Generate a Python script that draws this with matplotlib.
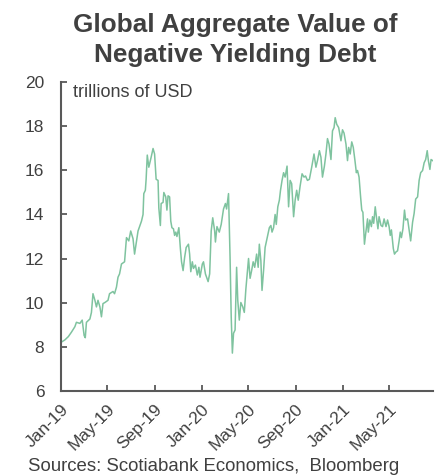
import matplotlib
matplotlib.use("Agg")
from matplotlib import pyplot as plt
import matplotlib.dates as mdates
import pandas as pd

# values (trillions of USD)
dates = [
    "2019-01-02", "2019-01-11", "2019-01-20", "2019-01-28", "2019-02-06", "2019-02-10",
    "2019-02-19", "2019-02-25", "2019-03-02", "2019-03-05", "2019-03-08", "2019-03-17",
    "2019-03-21", "2019-03-25", "2019-03-30", "2019-04-03", "2019-04-07", "2019-04-12",
    "2019-04-16", "2019-04-20", "2019-04-25", "2019-05-03", "2019-05-07", "2019-05-16",
    "2019-05-20", "2019-05-25", "2019-05-29", "2019-06-02", "2019-06-07", "2019-06-15",
    "2019-06-20", "2019-06-26", "2019-07-01", "2019-07-07", "2019-07-11", "2019-07-16",
    "2019-07-20", "2019-07-29", "2019-08-02", "2019-08-04", "2019-08-08", "2019-08-10",
    "2019-08-13", "2019-08-17", "2019-08-23", "2019-08-28", "2019-09-01", "2019-09-05",
    "2019-09-10", "2019-09-12", "2019-09-16", "2019-09-18", "2019-09-23", "2019-09-25",
    "2019-09-30", "2019-10-03", "2019-10-06", "2019-10-10", "2019-10-13", "2019-10-16",
    "2019-10-20", "2019-10-23", "2019-10-26", "2019-10-29", "2019-11-03", "2019-11-07",
    "2019-11-10", "2019-11-14", "2019-11-18", "2019-11-22", "2019-11-28", "2019-12-01",
    "2019-12-04", "2019-12-08", "2019-12-11", "2019-12-16", "2019-12-21", "2019-12-25",
    "2019-12-28",
    "2020-01-03", "2020-01-06", "2020-01-11", "2020-01-15", "2020-01-18", "2020-01-22",
    "2020-01-26", "2020-01-30", "2020-02-04", "2020-02-06", "2020-02-10", "2020-02-16",
    "2020-02-21", "2020-02-27", "2020-03-03", "2020-03-06", "2020-03-11", "2020-03-15",
    "2020-03-18", "2020-03-21", "2020-03-24", "2020-03-28", "2020-04-01", "2020-04-04",
    "2020-04-08", "2020-04-12", "2020-04-17", "2020-04-21", "2020-04-25", "2020-05-02",
    "2020-05-06", "2020-05-10", "2020-05-14", "2020-05-18", "2020-05-23", "2020-05-27",
    "2020-05-30", "2020-06-03", "2020-06-06", "2020-06-10", "2020-06-14", "2020-06-17",
    "2020-06-21", "2020-06-25", "2020-06-29", "2020-07-02", "2020-07-06", "2020-07-10",
    "2020-07-13", "2020-07-17", "2020-07-21", "2020-07-24", "2020-07-28", "2020-08-01",
    "2020-08-05", "2020-08-10", "2020-08-14", "2020-08-18", "2020-08-22", "2020-08-27",
    "2020-08-31", "2020-09-04", "2020-09-08", "2020-09-13", "2020-09-18", "2020-09-23",
    "2020-09-27", "2020-10-02", "2020-10-07", "2020-10-13", "2020-10-19", "2020-10-24",
    "2020-10-28", "2020-11-02", "2020-11-06", "2020-11-10", "2020-11-15", "2020-11-19",
    "2020-11-23", "2020-11-27", "2020-12-02", "2020-12-06", "2020-12-10", "2020-12-13",
    "2020-12-17", "2020-12-22", "2020-12-28",
    "2021-01-01", "2021-01-05", "2021-01-10", "2021-01-14", "2021-01-17", "2021-01-21",
    "2021-01-25", "2021-01-29", "2021-02-02", "2021-02-06", "2021-02-09", "2021-02-13",
    "2021-02-17", "2021-02-20", "2021-02-23", "2021-02-27", "2021-03-02", "2021-03-07",
    "2021-03-09", "2021-03-13", "2021-03-17", "2021-03-20", "2021-03-23", "2021-03-27",
    "2021-03-30", "2021-04-03", "2021-04-06", "2021-04-11", "2021-04-15", "2021-04-19",
    "2021-04-24", "2021-04-28", "2021-05-02", "2021-05-05", "2021-05-08", "2021-05-13",
    "2021-05-16", "2021-05-20", "2021-05-24", "2021-05-28", "2021-05-31", "2021-06-03",
    "2021-06-07", "2021-06-11", "2021-06-14", "2021-06-19", "2021-06-23", "2021-06-27",
    "2021-07-02", "2021-07-06", "2021-07-10", "2021-07-15", "2021-07-19", "2021-07-23",
    "2021-07-28", "2021-08-01", "2021-08-05", "2021-08-09", "2021-08-12", "2021-08-16",
    "2021-08-19", "2021-08-23",
]
values = [
    8.2, 8.3, 8.45, 8.65, 8.9, 9.1,
    9.05, 9.2, 8.5, 8.4, 9.1, 9.25,
    9.55, 10.4, 10.1, 9.8, 10.1, 9.8,
    9.35, 9.95, 10.0, 10.1, 10.4, 10.5,
    10.4, 10.7, 11.15, 11.3, 11.75, 11.85,
    12.95, 12.8, 13.25, 12.9, 12.2, 12.8,
    13.25, 13.7, 14.0, 14.95, 15.1, 15.6,
    16.7, 16.15, 16.6, 17.0, 16.75, 15.6,
    15.55, 14.3, 13.5, 14.5, 14.55, 15.0,
    14.8, 14.2, 14.85, 14.8, 13.7, 13.4,
    13.35, 13.05, 13.2, 13.0, 13.4, 12.45,
    11.85, 11.45, 12.05, 12.5, 12.65, 12.2,
    11.4, 11.85, 11.55, 11.7, 11.25, 11.6,
    11.15,
    11.75, 11.85, 11.3, 11.1, 10.95, 11.3,
    13.25, 13.85, 13.25, 12.75, 13.45, 13.2,
    13.55, 14.25, 14.5, 14.25, 14.95, 12.05,
    9.35, 7.7, 8.6, 8.75, 11.6, 10.1,
    9.2, 10.0, 9.8, 9.55, 10.6, 12.0,
    11.1, 11.45, 11.85, 11.6, 12.2, 11.6,
    12.65, 11.9, 10.55, 11.45, 12.5, 12.75,
    13.1, 13.4, 13.5, 13.2, 13.4, 14.0,
    13.55, 14.35, 14.65, 15.1, 15.55, 15.9,
    15.7, 16.2, 14.35, 15.55, 15.4, 13.9,
    14.65, 15.1, 14.65, 15.3, 15.85, 15.7,
    15.75, 15.55, 15.6, 16.15, 16.75, 16.15,
    16.45, 16.9, 16.6, 15.7, 16.2, 16.75,
    17.45, 17.2, 16.5, 17.8, 17.95, 18.4,
    18.1, 17.95, 17.35,
    17.85, 17.7, 17.2, 16.45, 17.05, 16.75,
    17.3, 17.05, 16.5, 15.9, 16.0, 15.7,
    14.8, 14.2, 14.1, 12.65, 13.1, 13.8,
    13.2, 13.75, 13.45, 13.9, 13.6, 14.35,
    13.9, 13.35, 13.9, 13.5, 13.45, 13.8,
    13.45, 13.75, 13.45, 13.05, 13.3, 12.45,
    12.2, 12.3, 12.35, 12.8, 13.2, 12.95,
    13.35, 14.2, 13.75, 13.8, 13.3, 12.8,
    13.65, 14.05, 14.7, 14.8, 15.55, 15.9,
    16.0, 16.35, 16.5, 16.9, 16.45, 16.05,
    16.5, 16.45,
]

plt.rcParams['font.family'] = ['Liberation Sans', 'DejaVu Sans']
grey = '#404040'
axis_grey = '#595959'

fig = plt.figure(figsize=(4.48, 4.76), dpi=100)
ax = fig.add_axes([0.1362, 0.1796, 0.8303, 0.6471])

ax.plot(pd.to_datetime(dates), values, color='#7fc39f', linewidth=1.1)

ax.set_ylim(6, 20)
ax.set_yticks(range(6, 21, 2))
ax.set_xlim(pd.Timestamp("2019-01-01"), pd.Timestamp("2021-08-24"))
ax.xaxis.set_major_locator(mdates.MonthLocator(bymonth=[1, 5, 9]))
ax.xaxis.set_major_formatter(mdates.DateFormatter('%b-%y'))

for s in ['top', 'right']:
    ax.spines[s].set_visible(False)
for s in ['left', 'bottom']:
    ax.spines[s].set_color(axis_grey)
    ax.spines[s].set_linewidth(1.5)

ax.tick_params(axis='both', direction='in', length=4, width=1.3, color=axis_grey,
               labelcolor=grey, labelsize=12.5)
ax.tick_params(axis='y', pad=12)
ax.tick_params(axis='x', pad=8)
for lbl in ax.get_xticklabels():
    lbl.set_rotation(45)
    lbl.set_ha('right')
    lbl.set_rotation_mode('anchor')

ax.text(0.031, 19.36, "trillions of USD", transform=ax.get_yaxis_transform(),
        fontsize=13, color=grey, va='baseline', ha='left')

fig.text(0.5246, 0.9334, "Global Aggregate Value of", fontsize=18.8, fontweight='bold',
         color=grey, ha='center', va='baseline')
fig.text(0.5246, 0.8704, "Negative Yielding Debt", fontsize=18.8, fontweight='bold',
         color=grey, ha='center', va='baseline')
fig.text(0.0625, 0.002, "Sources: Scotiabank Economics,  Bloomberg", fontsize=13.4,
         color=grey, ha='left', va='bottom')

fig.savefig("out.png", dpi=100)
